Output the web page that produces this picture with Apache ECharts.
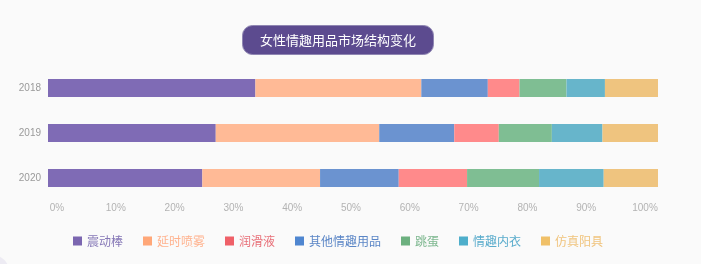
<!DOCTYPE html>
<html>
<head>
<meta charset="utf-8">
<script src="https://cdn.jsdelivr.net/npm/echarts@6/dist/echarts.min.js"></script>
<style>
html,body{margin:0;padding:0;background:#fafafa;}
#c{width:701px;height:264px;}
</style>
</head>
<body>
<div id="c"></div>
<script>
var years = ['2018', '2019', '2020'];
var seriesNames = ['震动棒', '延时喷雾', '润滑液', '其他情趣用品', '跳蛋', '情趣内衣', '仿真阳具'];
// values in percent, per year [2018, 2019, 2020]
var vibrator = [34.0, 27.5, 25.3];
var spray = [27.2, 26.8, 19.3];
var otherGoods = [10.9, 12.3, 12.9];
var lubricant = [5.2, 7.3, 11.2];
var egg = [7.7, 8.7, 11.8];
var lingerie = [6.3, 8.3, 10.6];
var dildo = [8.7, 9.1, 8.9];
var tickLabels = ['0%', '10%', '20%', '30%', '40%', '50%', '60%', '70%', '80%', '90%', '100%'];

// stacking order along the bar (left to right)
var stackOrder = [
  {name: '震动棒', data: vibrator, color: '#7f6bb5'},
  {name: '延时喷雾', data: spray, color: '#ffba96'},
  {name: '其他情趣用品', data: otherGoods, color: '#6b93d0'},
  {name: '润滑液', data: lubricant, color: '#ff8a8b'},
  {name: '跳蛋', data: egg, color: '#7fbe93'},
  {name: '情趣内衣', data: lingerie, color: '#67b5cb'},
  {name: '仿真阳具', data: dildo, color: '#efc47f'}
];
var legendIcon = {
  '震动棒': ['#7b66b0', '#8577b6'],
  '延时喷雾': ['#ffa778', '#ffb28e'],
  '润滑液': ['#ef6068', '#e86f78'],
  '其他情趣用品': ['#4f86d0', '#5b86c6'],
  '跳蛋': ['#6cb07f', '#7db78f'],
  '情趣内衣': ['#4eaecb', '#5aaccc'],
  '仿真阳具': ['#f0c068', '#f0c47e']
};

var chart = echarts.init(document.getElementById('c'), null, {renderer: 'canvas'});
var option = {
  backgroundColor: '#fafafa',
  animation: false,
  title: {
    text: '女性情趣用品市场结构变化',
    left: 242,
    top: 25,
    padding: [8, 18, 8, 18],
    backgroundColor: '#5c4b8f',
    borderRadius: 10,
    borderColor: '#8f86b2',
    borderWidth: 1,
    textStyle: {color: '#ffffff', fontSize: 13, fontWeight: 'normal', fontFamily: 'Noto Sans CJK SC', lineHeight: 14}
  },
  legend: {
    bottom: 12,
    left: 68,
    itemWidth: 9,
    itemHeight: 9,
    itemGap: 20,
    icon: 'rect',
    textStyle: {fontSize: 12, fontFamily: 'Noto Sans CJK SC'},
    data: seriesNames.map(function (n) {
      return {name: n, itemStyle: {color: legendIcon[n][0]}, textStyle: {color: legendIcon[n][1]}};
    })
  },
  grid: [
    {left: 48, right: 43, top: 65.5, height: 135},
    {left: 57, right: 56, top: 65.5, height: 135}
  ],
  xAxis: [
    {type: 'value', gridIndex: 0, min: 0, max: 100, show: false},
    {
      type: 'value', gridIndex: 1, min: 0, max: 100, interval: 10,
      axisLine: {show: false}, axisTick: {show: false}, splitLine: {show: false},
      axisLabel: {
        margin: 3, color: '#b3b3b3', fontSize: 10, fontFamily: 'Liberation Sans',
        formatter: function (v) { return tickLabels[Math.round(v / 10)]; }
      }
    }
  ],
  yAxis: [
    {
      type: 'category', gridIndex: 0, inverse: true, data: years,
      axisLine: {show: false}, axisTick: {show: false},
      axisLabel: {margin: 7, color: '#9a9a9a', fontSize: 10, fontFamily: 'Liberation Sans'}
    },
    {type: 'category', gridIndex: 1, data: years, show: false}
  ],
  series: stackOrder.map(function (s) {
    return {
      name: s.name, type: 'bar', stack: 'total', barWidth: 18,
      xAxisIndex: 0, yAxisIndex: 0,
      itemStyle: {color: s.color},
      data: s.data
    };
  }),
  graphic: [
    {type: 'circle', left: -30, top: 254, shape: {r: 20}, style: {fill: 'rgba(150,130,200,0.12)'}, silent: true}
  ]
};
chart.setOption(option);
</script>
</body>
</html>
